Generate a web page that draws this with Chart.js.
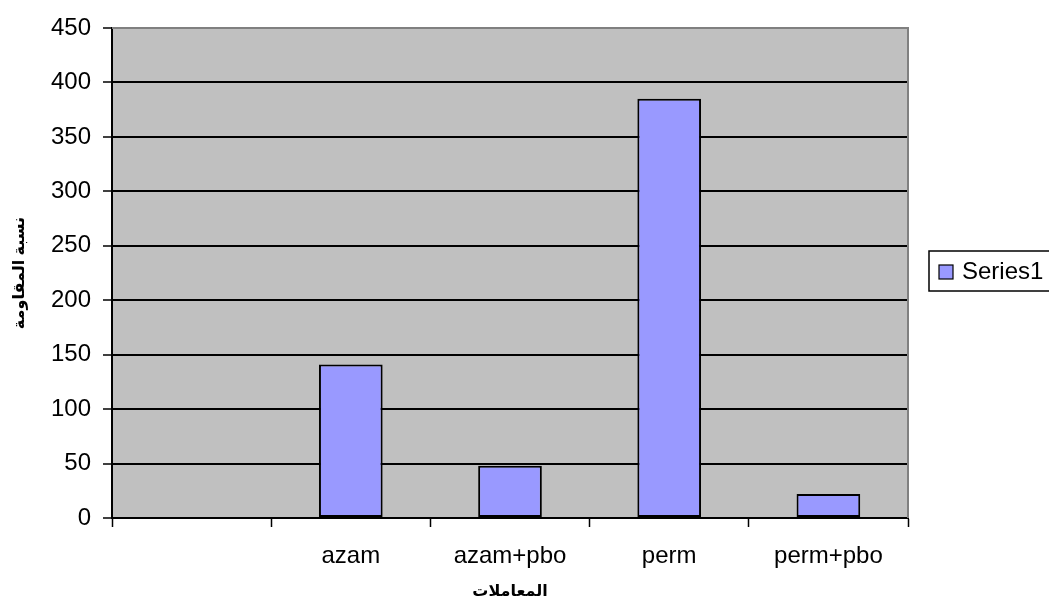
<!DOCTYPE html>
<html>
<head>
<meta charset="utf-8">
<script src="https://cdn.jsdelivr.net/npm/chart.js@4/dist/chart.umd.min.js"></script>
<style>
  html, body { margin: 0; padding: 0; background: #ffffff; }
  #wrap { width: 1049px; height: 605px; position: relative; }
</style>
</head>
<body>
<div id="wrap"><canvas id="chart"></canvas></div>
<script>
// Treatments (first slot left blank) and resistance ratio
const categories = ['', 'azam', 'azam+pbo', 'perm', 'perm+pbo'];
const seriesName = 'Series1';
const resistance = [null, 141, 48, 385, 22];
const yTicks = [0, 50, 100, 150, 200, 250, 300, 350, 400, 450];

const yTitle = 'نسبة المقاومة';
const xTitle = 'المعاملات';

const FONT = "Arial, 'Liberation Sans', 'DejaVu Sans', sans-serif";
const BAR_FILL = '#9999FF';
const PLOT_FILL = '#C0C0C0';

// grey plot area with a grey frame on top and right
const plotArea = {
  id: 'plotArea',
  beforeDraw(chart) {
    const { ctx, chartArea: a } = chart;
    ctx.save();
    ctx.fillStyle = PLOT_FILL;
    ctx.fillRect(a.left, a.top, a.right - a.left, a.bottom - a.top);
    ctx.restore();
  },
  afterDatasetsDraw(chart) {
    const { ctx, chartArea: a } = chart;
    ctx.save();
    ctx.strokeStyle = '#808080';
    ctx.lineWidth = 2;
    ctx.beginPath();
    ctx.moveTo(a.left, a.top);
    ctx.lineTo(a.right, a.top);
    ctx.lineTo(a.right, a.bottom);
    ctx.stroke();
    ctx.restore();
  }
};

// boxed legend to the right of the plot
const boxLegend = {
  id: 'boxLegend',
  afterDraw(chart) {
    const { ctx } = chart;
    const ds = chart.data.datasets[0];
    ctx.save();
    ctx.fillStyle = '#ffffff';
    ctx.strokeStyle = '#000000';
    ctx.lineWidth = 1.5;
    ctx.fillRect(929, 251, 125, 40);
    ctx.strokeRect(929, 251, 125, 40);
    ctx.fillStyle = ds.backgroundColor;
    ctx.fillRect(939, 265, 14, 14);
    ctx.lineWidth = 1.2;
    ctx.strokeRect(939, 265, 14, 14);
    ctx.fillStyle = '#000000';
    ctx.font = '24px ' + FONT;
    ctx.textBaseline = 'middle';
    ctx.textAlign = 'left';
    ctx.fillText(ds.label, 962, 272);
    ctx.restore();
  }
};

new Chart(document.getElementById('chart'), {
  type: 'bar',
  data: {
    labels: categories,
    datasets: [{
      label: seriesName,
      data: resistance,
      backgroundColor: BAR_FILL,
      borderColor: '#000000',
      borderWidth: 2,
      borderSkipped: false,
      categoryPercentage: 0.4,
      barPercentage: 1.0
    }]
  },
  options: {
    responsive: true,
    maintainAspectRatio: false,
    animation: false,
    layout: { padding: { top: 28, right: 141, bottom: 0, left: 0 } },
    plugins: {
      legend: { display: false },
      tooltip: { enabled: false }
    },
    scales: {
      x: {
        type: 'category',
        grid: {
          offset: true,
          drawOnChartArea: false,
          drawTicks: true,
          tickLength: 9,
          tickColor: '#000000',
          tickWidth: 1.5
        },
        border: { display: true, color: '#000000', width: 2 },
        ticks: {
          color: '#000000',
          font: { family: FONT, size: 24 },
          padding: 15,
          maxRotation: 0
        },
        title: {
          display: true,
          text: xTitle,
          color: '#000000',
          font: { family: FONT, size: 16, weight: 'bold' },
          padding: { top: 6, bottom: 4 }
        },
        afterFit(scale) { scale.height = 87; }
      },
      y: {
        min: 0,
        max: 450,
        afterBuildTicks(scale) { scale.ticks = yTicks.map(v => ({ value: v })); },
        grid: {
          color: ctx => (ctx.tick && ctx.tick.value === 450) ? '#808080' : '#000000',
          lineWidth: 2,
          drawTicks: true,
          tickLength: 9,
          tickColor: '#000000',
          tickWidth: 1.5
        },
        border: { display: true, color: '#000000', width: 2 },
        ticks: {
          color: '#000000',
          font: { family: FONT, size: 24 },
          padding: 12
        },
        title: {
          display: true,
          text: yTitle,
          color: '#000000',
          font: { family: FONT, size: 16, weight: 'bold' },
          padding: { top: 10, bottom: 0 }
        },
        afterFit(scale) { scale.width = 112; }
      }
    }
  },
  plugins: [plotArea, boxLegend]
});
</script>
</body>
</html>
